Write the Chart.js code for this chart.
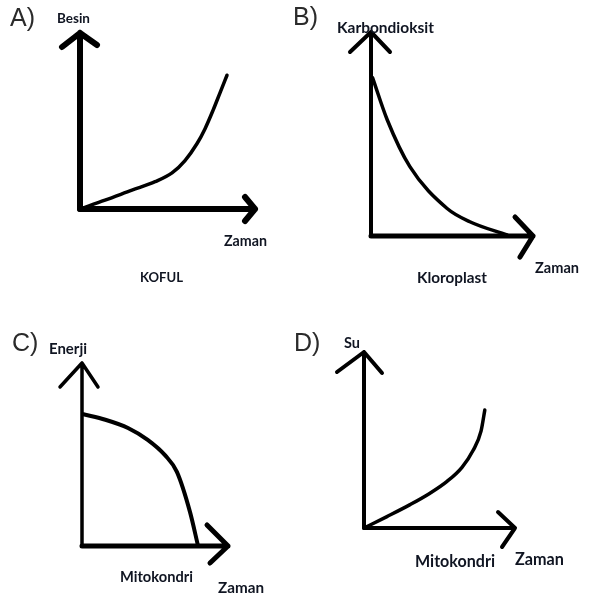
<!DOCTYPE html>
<html lang="tr">
<head>
  <meta charset="UTF-8" />
  <meta name="viewport" content="width=device-width, initial-scale=1.0"/>
  <title>Organel grafikleri</title>
  <script src="https://cdn.jsdelivr.net/npm/chart.js"></script>
  <style>
    html, body {
      margin: 0;
      padding: 0;
      background: #fff;
    }
    body {
      width: 594px;
      height: 598px;
      position: relative;
      overflow: hidden;
    }
    canvas {
      position: absolute;
    }
    .harf {
      position: absolute;
      font-family: 'Liberation Sans', Arial, sans-serif;
      font-size: 25px;
      line-height: 1;
      color: #2b2b2b;
    }
    .etiket {
      position: absolute;
      font-family: Lato, 'Open Sans', sans-serif;
      font-weight: 700;
      line-height: 1;
      color: #101522;
      white-space: nowrap;
    }
  </style>
</head>
<body>
  <canvas id="grafikA" width="297" height="299"></canvas>
  <canvas id="grafikB" width="297" height="299"></canvas>
  <canvas id="grafikC" width="297" height="299"></canvas>
  <canvas id="grafikD" width="297" height="299"></canvas>

  <div class="harf" style="left:10px;top:5px">A)</div>
  <div class="harf" style="left:293px;top:4px">B)</div>
  <div class="harf" style="left:12px;top:330px">C)</div>
  <div class="harf" style="left:294px;top:330px">D)</div>

  <span class="etiket" data-x="57" data-b="23" data-w="33">Besin</span>
  <span class="etiket" data-x="224" data-b="246" data-w="43">Zaman</span>
  <span class="etiket" data-x="140" data-b="282" data-w="43">KOFUL</span>

  <span class="etiket" data-x="337" data-b="33" data-w="97">Karbondioksit</span>
  <span class="etiket" data-x="535" data-b="273" data-w="44">Zaman</span>
  <span class="etiket" data-x="417" data-b="283" data-w="70">Kloroplast</span>

  <span class="etiket" data-x="49" data-b="354" data-w="38">Enerji</span>
  <span class="etiket" data-x="120" data-b="582" data-w="73">Mitokondri</span>
  <span class="etiket" data-x="218" data-b="593" data-w="46">Zaman</span>

  <span class="etiket" data-x="344" data-b="348" data-w="16">Su</span>
  <span class="etiket" data-x="415" data-b="567" data-w="80">Mitokondri</span>
  <span class="etiket" data-x="515" data-b="565" data-w="49">Zaman</span>

  <script>
    // A) koful - besin
    const aZaman = [0, 1.43, 2.97, 4.29, 5.26, 6.0, 6.69, 7.14, 7.6, 8.0, 8.4];
    const aBesin = [0, 0.5, 1.07, 1.55, 2.05, 2.75, 3.72, 4.55, 5.6, 6.6, 7.6];

    // B) kloroplast - karbondioksit
    const bZaman = [0.1, 1.0, 2.4, 4.7, 6.1, 8.4];
    const bKarbondioksit = [7.75, 5.7, 3.4, 1.35, 0.7, 0.05];

    // C) mitokondri - enerji
    const cZaman = [0.1, 1.6, 3.15, 4.5, 5.7, 6.5, 7.4, 7.95];
    const cEnerji = [7.2, 6.9, 6.45, 5.8, 4.95, 4.05, 1.85, 0];

    // D) mitokondri - su
    const dZaman = [0, 1.52, 3.05, 4.37, 5.5, 6.49, 7.22, 7.75, 8.0];
    const dSu = [0, 0.65, 1.33, 1.98, 2.65, 3.45, 4.4, 5.5, 6.7];

    const eksenMax = 10;

    // where each panel sits, where its axes start/end (px) and stroke widths
    const paneller = [
      { id: 'grafikA', x: aZaman, y: aBesin, left: 0, top: 0,
        origin: [80, 209], tip: [255, 33], eksen: [6, 6], egri: 3.5,
        okY: [[-18, 14], [17, 12]], okX: [[-10, -12], [-10, 12]] },
      { id: 'grafikB', x: bZaman, y: bKarbondioksit, left: 297, top: 0,
        origin: [371, 236], tip: [533, 32], eksen: [4, 5], egri: 3.5,
        okY: [[-21, 20], [19, 20]], okX: [[-18, -19], [-13, 21]] },
      { id: 'grafikC', x: cZaman, y: cEnerji, left: 0, top: 299,
        origin: [82, 546], tip: [228, 363], eksen: [3.5, 5], egri: 4,
        okY: [[-22, 24], [16, 24]], okX: [[-21, -21], [-18, 17]] },
      { id: 'grafikD', x: dZaman, y: dSu, left: 297, top: 299,
        origin: [364, 528], tip: [515, 352], eksen: [4, 4], egri: 3.5,
        okY: [[-27, 20], [18, 21]], okX: [[-17, -16], [-13, 19]] }
    ];

    const okluEksen = {
      id: 'okluEksen',
      beforeDatasetsDraw(chart, args, opts) {
        const { ctx, scales: { x, y } } = chart;
        const x0 = x.getPixelForValue(x.min);
        const y0 = y.getPixelForValue(y.min);
        const x1 = x.getPixelForValue(x.max);
        const y1 = y.getPixelForValue(y.max);
        ctx.save();
        ctx.strokeStyle = '#000';
        ctx.lineCap = 'round';
        ctx.lineJoin = 'round';

        ctx.lineWidth = opts.eksen[0];
        ctx.beginPath();
        ctx.moveTo(x0, y0);
        ctx.lineTo(x0, y1);
        opts.okY.forEach(([dx, dy]) => {
          ctx.moveTo(x0 + dx, y1 + dy);
          ctx.lineTo(x0, y1);
        });
        ctx.stroke();

        ctx.lineWidth = opts.eksen[1];
        ctx.beginPath();
        ctx.moveTo(x0, y0);
        ctx.lineTo(x1, y0);
        opts.okX.forEach(([dx, dy]) => {
          ctx.moveTo(x1 + dx, y0 + dy);
          ctx.lineTo(x1, y0);
        });
        ctx.stroke();
        ctx.restore();
      }
    };

    paneller.forEach(p => {
      const canvas = document.getElementById(p.id);
      canvas.style.left = p.left + 'px';
      canvas.style.top = p.top + 'px';

      const points = p.x.map((v, i) => ({ x: v, y: p.y[i] }));

      new Chart(canvas.getContext('2d'), {
        type: 'line',
        data: {
          datasets: [{
            data: points,
            borderColor: '#000',
            borderWidth: p.egri,
            borderCapStyle: 'round',
            pointRadius: 0,
            fill: false,
            clip: false,
            cubicInterpolationMode: 'monotone'
          }]
        },
        options: {
          responsive: false,
          animation: false,
          events: [],
          layout: {
            padding: {
              left: p.origin[0] - p.left,
              top: p.tip[1] - p.top,
              right: p.left + canvas.width - p.tip[0],
              bottom: p.top + canvas.height - p.origin[1]
            }
          },
          plugins: {
            legend: { display: false },
            tooltip: { enabled: false },
            okluEksen: p
          },
          scales: {
            x: { type: 'linear', display: false, min: 0, max: eksenMax },
            y: { type: 'linear', display: false, min: 0, max: eksenMax }
          }
        },
        plugins: [okluEksen]
      });
    });

    // size each label to the width it has in the drawing, sit it on its baseline
    function yerlestir() {
      document.querySelectorAll('.etiket').forEach(el => {
        el.style.left = el.dataset.x + 'px';
        el.style.top = '0px';
        el.style.fontSize = '20px';
        const s = 20 * (+el.dataset.w) / el.getBoundingClientRect().width;
        el.style.fontSize = s.toFixed(2) + 'px';
        let mark = el.querySelector('i');
        if (!mark) {
          mark = document.createElement('i');
          mark.style.cssText = 'display:inline-block;width:0;height:0;vertical-align:baseline';
          el.appendChild(mark);
        }
        const base = mark.getBoundingClientRect().top;
        el.style.top = (+el.dataset.b - base) + 'px';
      });
    }
    yerlestir();
    if (document.fonts) document.fonts.ready.then(yerlestir);
  </script>
</body>
</html>
